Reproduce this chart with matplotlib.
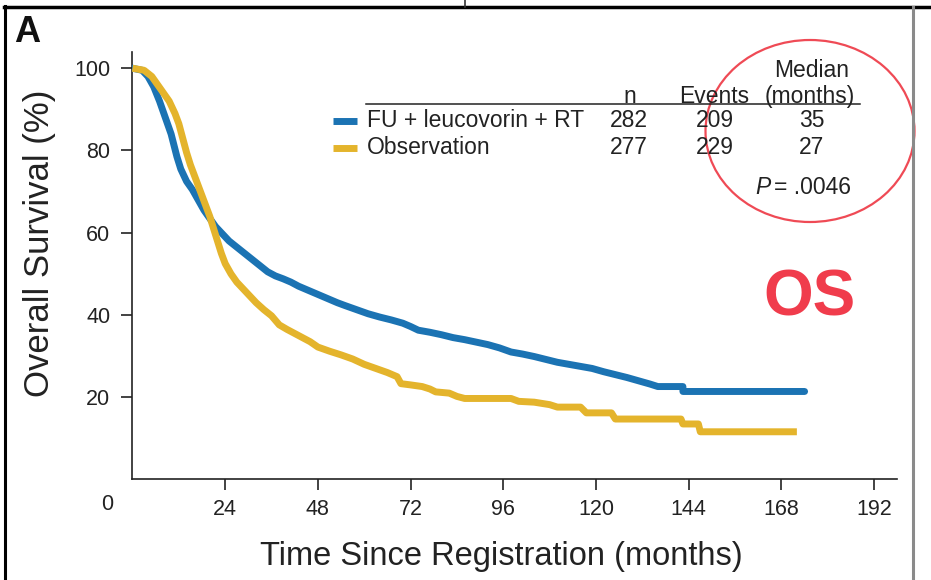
import matplotlib
matplotlib.use("Agg")
import matplotlib.pyplot as plt
from matplotlib.lines import Line2D
from matplotlib.patches import Ellipse

# ---------------- data ----------------
arm_names = ["FU + leucovorin + RT", "Observation"]
arm_n = ["282", "277"]
arm_events = ["209", "229"]
arm_median = ["35", "27"]
p_value = ".0046"

t_fu = [0, 2.5, 4, 5.5, 7, 8.5, 10, 11.5, 12.5, 14, 15.5, 17, 18.5, 20, 21.5, 23, 25,
        27, 29, 31, 33, 35, 37, 39, 41, 43, 45, 47, 49, 51, 53, 55, 58, 61, 64, 67,
        70, 72, 74, 77, 80, 83, 86, 89, 92, 95, 98, 101, 104, 107, 110, 113, 116,
        119, 122, 125, 128, 131, 134, 136, 142.5, 142.5, 174]
s_fu = [100, 99.5, 98, 95.5, 92, 88, 84, 78.5, 75.5, 72.5, 70.5, 68, 65.5, 63.5,
        61.5, 60, 58, 56.5, 55, 53.5, 52, 50.5, 49.5, 48.8, 48, 47, 46.2, 45.4, 44.6,
        43.8, 43, 42.3, 41.3, 40.3, 39.5, 38.8, 38, 37.2, 36.3, 35.8, 35.2, 34.5, 34,
        33.4, 32.8, 32, 31, 30.5, 29.9, 29.2, 28.5, 28, 27.5, 27, 26.2, 25.5, 24.8,
        24, 23.2, 22.6, 22.6, 21.4, 21.4]

t_obs = [0, 3, 5, 6.5, 8, 9.5, 11, 12, 13, 14, 15, 16, 17, 18, 19, 20, 21, 22, 23, 24,
         25.5, 27, 28.5, 30, 32, 34, 36, 38, 40, 42, 44, 46, 48, 51, 54, 57, 60, 63,
         66, 68.5, 69.5, 72, 75, 77, 78.5, 82, 84, 86, 98, 100, 104, 108, 110, 116,
         117.5, 124, 125, 142, 142.5, 146.5, 147, 172]
s_obs = [100, 99.5, 98, 96, 94, 92, 89, 86.5, 83, 79.5, 76.5, 74, 71.5, 69, 66.5, 64,
         61, 58, 55, 52.5, 50, 48, 46.5, 45, 43, 41.3, 39.8, 37.6, 36.5, 35.5, 34.5,
         33.5, 32.2, 31.2, 30.3, 29.3, 28, 27, 26, 25, 23.3, 23, 22.6, 22, 21.3, 21,
         20.2, 19.7, 19.7, 19, 18.8, 18.2, 17.6, 17.6, 16.2, 16.2, 14.7, 14.7, 13.5,
         13.5, 11.6, 11.6]

x_ticks = [24, 48, 72, 96, 120, 144, 168, 192]
y_ticks = [20, 40, 60, 80, 100]

# ---------------- style ----------------
BLUE = "#1b73b3"
GOLD = "#e4b42c"
RED = "#f03c4c"
FONT = ["Liberation Sans", "DejaVu Sans"]
INK = "#222222"

W, H = 931, 580
fig = plt.figure(figsize=(W / 100, H / 100), dpi=100)


def fx(x):
    return x / W


def fy(y):
    return 1 - y / H


ax = fig.add_axes([0.1423, 0.1733, 0.8215, 0.7374])
ax.set_xlim(0, 198)
ax.set_ylim(0, 104)

ax.plot(t_fu, s_fu, color=BLUE, lw=5, solid_joinstyle="round",
        solid_capstyle="round", zorder=3)
ax.plot(t_obs, s_obs, color=GOLD, lw=5, solid_joinstyle="round",
        solid_capstyle="butt", zorder=4)

for s in ["top", "right"]:
    ax.spines[s].set_visible(False)
for s in ["left", "bottom"]:
    ax.spines[s].set_linewidth(1.2)
    ax.spines[s].set_color(INK)

ax.set_xticks(x_ticks)
ax.set_yticks(y_ticks)
ax.tick_params(axis="both", direction="out", length=8, width=1.2, color=INK)
ax.tick_params(axis="x", pad=6)
ax.tick_params(axis="y", pad=8)
for lab in ax.get_xticklabels() + ax.get_yticklabels():
    lab.set_family(FONT)
    lab.set_fontsize(15.5)
    lab.set_color(INK)

# corner zero
fig.text(fx(107), fy(505), "0", family=FONT, fontsize=15.5, color=INK,
         ha="center", va="center")

# axis labels
fig.text(fx(501), fy(557), "Time Since Registration (months)", family=FONT,
         fontsize=23.5, color=INK, ha="center", va="center")
fig.text(fx(40), fy(243), "Overall Survival (%)", family=FONT, fontsize=25,
         color=INK, ha="center", va="center", rotation=90)

# panel letter
fig.text(fx(14), fy(42), "A", family=FONT, fontsize=26, fontweight="bold",
         color="#111111", ha="left", va="baseline")

# legend table
fs = 16.5
fig.text(fx(812), fy(77), "Median", family=FONT, fontsize=fs, color=INK,
         ha="center", va="baseline")
fig.text(fx(630), fy(103), "n", family=FONT, fontsize=fs, color=INK,
         ha="center", va="baseline")
fig.text(fx(714), fy(103), "Events", family=FONT, fontsize=fs, color=INK,
         ha="center", va="baseline")
fig.text(fx(810), fy(103), "(months)", family=FONT, fontsize=fs, color=INK,
         ha="center", va="baseline")
fig.add_artist(Line2D([fx(366), fx(860)], [fy(104), fy(104)], color=INK,
                      lw=1.1, transform=fig.transFigure))

row_y = [127, 154]
colors = [BLUE, GOLD]
for i in range(2):
    y = row_y[i]
    fig.add_artist(Line2D([fx(333), fx(357)], [fy(y - 6), fy(y - 6)],
                          color=colors[i], lw=5, solid_capstyle="butt",
                          transform=fig.transFigure))
    fig.text(fx(367), fy(y), arm_names[i], family=FONT, fontsize=fs,
             color=INK, ha="left", va="baseline")
    fig.text(fx(629), fy(y), arm_n[i], family=FONT, fontsize=fs,
             color=INK, ha="center", va="baseline")
    fig.text(fx(715), fy(y), arm_events[i], family=FONT, fontsize=fs,
             color=INK, ha="center", va="baseline")
    fig.text(fx(812), fy(y), arm_median[i], family=FONT, fontsize=fs,
             color=INK, ha="center", va="baseline")

fig.text(fx(771), fy(194), "P", family=FONT, fontsize=fs, fontstyle="italic",
         color=INK, ha="right", va="baseline")
fig.text(fx(774), fy(194), "= " + p_value, family=FONT, fontsize=fs,
         color=INK, ha="left", va="baseline")

# red annotations
fig.add_artist(Ellipse((fx(810), fy(131)), 209 / W, 182 / H, fill=False,
                       edgecolor="#ef4a55", lw=1.6, transform=fig.transFigure))
fig.text(fx(809), fy(298), "OS", family=FONT, fontsize=46, fontweight="bold",
         color=RED, ha="center", va="center")

# frame lines
fig.add_artist(Line2D([fx(4), fx(931)], [fy(7), fy(7)], color="black", lw=2.5,
                      transform=fig.transFigure))
fig.add_artist(Line2D([fx(5), fx(5)], [fy(6), fy(580)], color="black", lw=2.2,
                      transform=fig.transFigure))
fig.add_artist(Line2D([fx(913), fx(913)], [fy(7), fy(580)], color="#8a8a8a", lw=2.2,
                      transform=fig.transFigure))
fig.add_artist(Line2D([fx(465), fx(465)], [fy(0), fy(7)], color="#333333", lw=1.2,
                      transform=fig.transFigure))

fig.savefig("out.png", dpi=100)
